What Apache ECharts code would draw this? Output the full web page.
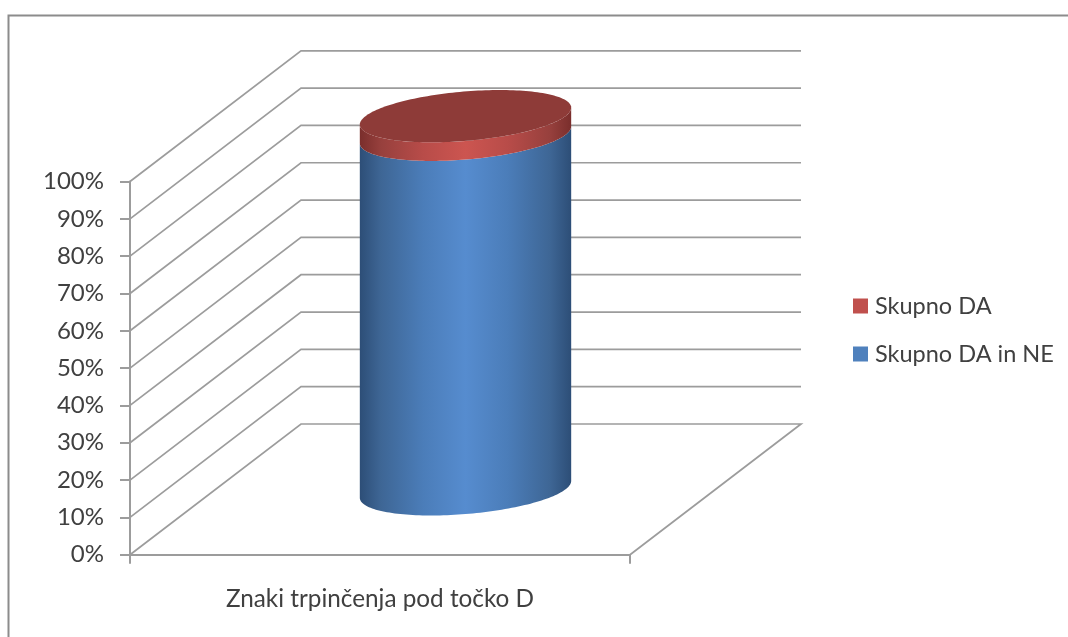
<!DOCTYPE html>
<html>
<head>
<meta charset="utf-8">
<style>
html,body{margin:0;padding:0;background:#fff;}
#chart{width:1068px;height:637px;}
</style>
<script src="https://cdn.jsdelivr.net/npm/echarts@6/dist/echarts.min.js"></script>
</head>
<body>
<div id="chart"></div>
<script>
// Stacked 100% cylinder drawn in an oblique projection on a normal cartesian grid.
const categories = ['Znaki trpinčenja pod točko D'];
const skupnoDa = [5];
const skupnoDaInNe = [95];
const yTicks = [0, 10, 20, 30, 40, 50, 60, 70, 80, 90, 100];

// Oblique depth of the floor, in pixels, and the cylinder radius as a share of it.
const DEPTH_X = 171;
const DEPTH_Y = -130.7;
const RADIUS_SHARE = 0.2;
const BOUNDARY_TICK = 9;

const GRID_COLOR = '#9c9c9c';
const TEXT_COLOR = '#404040';
const FONT = 'Lato';

function sideGradient(stops) {
  const offsets = [0, 0.1, 0.3, 0.5, 0.7, 0.9, 1];
  return {
    type: 'linear', x: 0, y: 0, x2: 1, y2: 0,
    colorStops: offsets.map((offset, i) => ({ offset, color: stops[i] }))
  };
}

// Point on the rim of a disc centred at the mid depth of the category at height v.
function rim(api, v, t) {
  const c = api.coord([0, v]);
  const w = api.size([1, 0])[0];
  const a = w * RADIUS_SHARE;
  const cx = c[0] + DEPTH_X / 2;
  const cy = c[1] + DEPTH_Y / 2;
  return [
    cx + a * Math.cos(t) + DEPTH_X * RADIUS_SHARE * Math.sin(t),
    cy + DEPTH_Y * RADIUS_SHARE * Math.sin(t)
  ];
}

function tangentAngle(api) {
  const a = api.size([1, 0])[0] * RADIUS_SHARE;
  return Math.atan2(DEPTH_X * RADIUS_SHARE, a);
}

// Visible wall of a cylinder slice: the near half of both rims.
function sidePoints(api, from, to) {
  const t0 = tangentAngle(api);
  const pts = [];
  const n = 90;
  for (let i = 0; i <= n; i++) {
    pts.push(rim(api, from, t0 + Math.PI + Math.PI * i / n));
  }
  for (let i = n; i >= 0; i--) {
    pts.push(rim(api, to, t0 + Math.PI + Math.PI * i / n));
  }
  return pts;
}

function discPoints(api, v) {
  const pts = [];
  const n = 180;
  for (let i = 0; i < n; i++) {
    pts.push(rim(api, v, 2 * Math.PI * i / n));
  }
  return pts;
}

function renderSlice(wallFill, topFill) {
  return function (params, api) {
    const from = api.value(1);
    const to = api.value(2);
    const children = [{
      type: 'polygon',
      shape: { points: sidePoints(api, from, to) },
      style: { fill: wallFill, stroke: null }
    }];
    if (topFill) {
      children.push({
        type: 'polygon',
        shape: { points: discPoints(api, to) },
        style: { fill: topFill, stroke: null }
      });
    }
    return { type: 'group', children };
  };
}

// One wall line per tick: from the value axis back along the side wall, then across the rear wall.
// The zero line also closes the floor and carries the two category boundary ticks.
function renderWallLine(params, api) {
  const v = api.value(1);
  const c = api.coord([0, v]);
  const half = api.size([1, 0])[0] / 2;
  const pts = [
    [c[0] - half, c[1]],
    [c[0] - half + DEPTH_X, c[1] + DEPTH_Y],
    [c[0] + half + DEPTH_X, c[1] + DEPTH_Y]
  ];
  if (v === 0) {
    pts.push([c[0] + half, c[1]]);
  }
  const line = {
    type: 'polyline',
    shape: { points: pts },
    style: { fill: null, stroke: GRID_COLOR, lineWidth: 1.7 }
  };
  if (v !== 0) {
    return line;
  }
  const tick = x => ({
    type: 'line',
    shape: { x1: x, y1: c[1], x2: x, y2: c[1] + BOUNDARY_TICK },
    style: { stroke: GRID_COLOR, lineWidth: 2 }
  });
  return { type: 'group', children: [line, tick(c[0] - half), tick(c[0] + half)] };
}

const chart = echarts.init(document.getElementById('chart'), null, { renderer: 'canvas' });
chart.setOption({
  animation: false,
  backgroundColor: '#ffffff',
  grid: { left: 130, right: 438, top: 181.5, bottom: 82.3, containLabel: false },
  legend: {
    orient: 'vertical',
    left: 848,
    top: 289,
    itemWidth: 15,
    itemHeight: 15,
    itemGap: 24,
    icon: 'rect',
    selectedMode: false,
    data: ['Skupno DA', 'Skupno DA in NE'],
    textStyle: { color: TEXT_COLOR, fontFamily: FONT, fontSize: 23.5, lineHeight: 15, padding: [0, 0, 0, 2] }
  },
  xAxis: {
    type: 'category',
    data: categories,
    axisLine: { lineStyle: { color: GRID_COLOR, width: 2 } },
    axisTick: { show: false },
    axisLabel: { color: TEXT_COLOR, fontFamily: FONT, fontSize: 24.3, margin: 32 }
  },
  yAxis: {
    type: 'value',
    min: 0,
    max: 100,
    interval: 10,
    splitLine: { show: false },
    axisLine: { show: true, lineStyle: { color: GRID_COLOR, width: 2 } },
    axisTick: { show: true, length: 10, lineStyle: { color: GRID_COLOR, width: 2 } },
    axisLabel: { color: TEXT_COLOR, fontFamily: FONT, fontSize: 24, margin: 26, formatter: '{value}%' }
  },
  series: [
    {
      name: 'Stene',
      type: 'custom',
      silent: true,
      z: 1,
      renderItem: renderWallLine,
      data: yTicks.map(v => [0, v])
    },
    {
      name: 'Skupno DA in NE',
      type: 'custom',
      silent: true,
      z: 3,
      itemStyle: { color: '#4F81BD' },
      renderItem: renderSlice(sideGradient(['#2d4e77', '#3e6695', '#4b7db9', '#568ccf', '#4b7db9', '#3e6695', '#2d4e77'])),
      data: skupnoDaInNe.map((v, i) => [i, 0, v])
    },
    {
      name: 'Skupno DA',
      type: 'custom',
      silent: true,
      z: 4,
      itemStyle: { color: '#C0504D' },
      renderItem: renderSlice(sideGradient(['#7a2e2c', '#97403d', '#b84c49', '#cc5550', '#b84c49', '#97403d', '#7a2e2c']), '#8e3b38'),
      data: skupnoDa.map((v, i) => [i, skupnoDaInNe[i], skupnoDaInNe[i] + v])
    }
  ],
  graphic: [{
    type: 'polyline',
    silent: true,
    shape: { points: [[8.5, 637], [8.5, 15.5], [1068, 15.5]] },
    style: { fill: null, stroke: '#8c8c8c', lineWidth: 2 }
  }]
});
</script>
</body>
</html>
